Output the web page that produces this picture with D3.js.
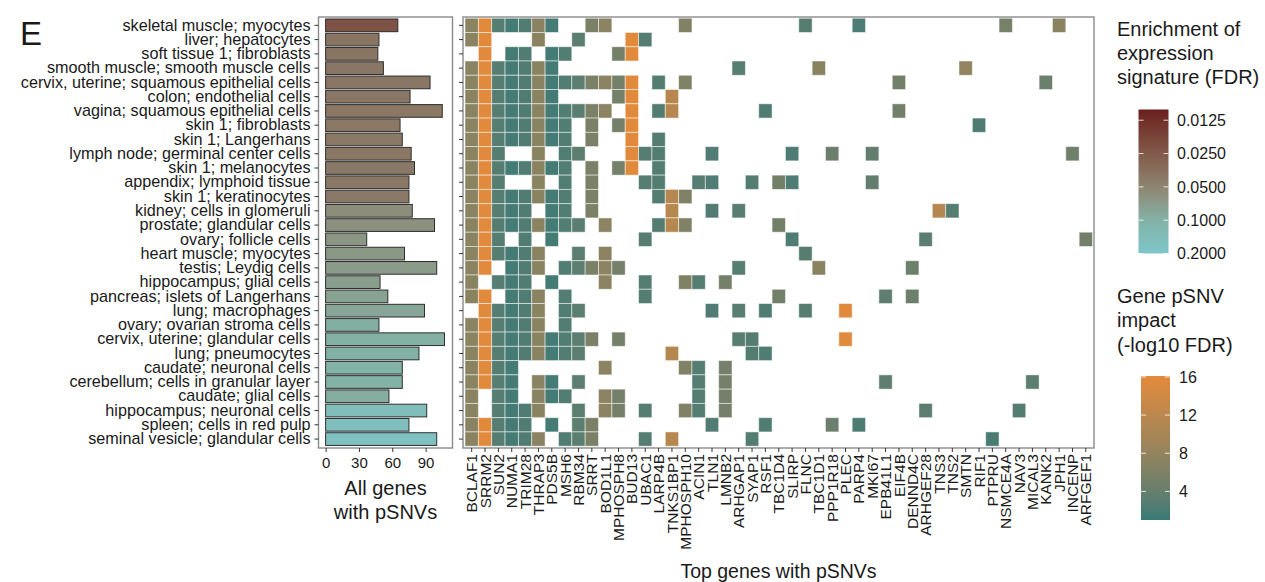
<!DOCTYPE html>
<html><head><meta charset="utf-8">
<script src="https://cdn.jsdelivr.net/npm/d3@7"></script>
<style>
body{margin:0;background:#fff;}
svg{display:block;font-family:"Liberation Sans",Arial,Helvetica,sans-serif;}
</style>
</head><body>
<svg id="chart" width="1265" height="582"></svg>
<script>
// ---------------- DATA ----------------
const tissues = [
  "skeletal muscle; myocytes","liver; hepatocytes","soft tissue 1; fibroblasts",
  "smooth muscle; smooth muscle cells","cervix, uterine; squamous epithelial cells",
  "colon; endothelial cells","vagina; squamous epithelial cells","skin 1; fibroblasts",
  "skin 1; Langerhans","lymph node; germinal center cells","skin 1; melanocytes",
  "appendix; lymphoid tissue","skin 1; keratinocytes","kidney; cells in glomeruli",
  "prostate; glandular cells","ovary; follicle cells","heart muscle; myocytes",
  "testis; Leydig cells","hippocampus; glial cells","pancreas; islets of Langerhans",
  "lung; macrophages","ovary; ovarian stroma cells","cervix, uterine; glandular cells",
  "lung; pneumocytes","caudate; neuronal cells","cerebellum; cells in granular layer",
  "caudate; glial cells","hippocampus; neuronal cells","spleen; cells in red pulp",
  "seminal vesicle; glandular cells"
];
// number of genes with pSNVs per tissue (bar length)
const allGeneCounts = [65,48,47,52,94,76,105,67,69,77,80,75,75,78,98,37,71,100,49,56,89,48,107,84,69,69,57,91,75,100];
// enrichment FDR per tissue (bar colour)
const enrichmentFDR = [0.022,0.039,0.039,0.040,0.040,0.040,0.041,0.041,0.041,0.041,0.042,0.042,0.042,0.058,0.060,
  0.064,0.067,0.070,0.073,0.078,0.083,0.095,0.097,0.099,0.100,0.100,0.092,0.150,0.160,0.170];

const genes = ["BCLAF1","SRRM2","SUN2","NUMA1","TRIM28","THRAP3","PDS5B","MSH6","RBM34","SRRT",
  "BOD1L1","MPHOSPH8","BUD13","UBAC1","LARP4B","TNKS1BP1","MPHOSPH10","ACIN1","TLN1","LMNB2",
  "ARHGAP1","SYAP1","RSF1","TBC1D4","SLIRP","FLNC","TBC1D1","PPP1R18","PLEC","PARP4","MKI67",
  "EPB41L1","EIF4B","DENND4C","ARHGEF28","TNS3","TNS2","SMTN","RIF1","PTPRU","NSMCE4A","NAV3",
  "MICAL3","KANK2","JPH1","INCENP","ARFGEF1"];
// gene pSNV impact (-log10 FDR)
const geneImpact = [7.0,16.0,2.8,1.8,2.5,7.0,1.8,2.6,3.2,5.8,
  7.2,5.2,16.0,2.8,2.7,11.5,6.3,2.8,2.5,5.2,
  3.0,2.7,2.4,5.0,2.4,2.9,7.0,4.5,15.8,2.2,3.8,
  3.6,5.0,4.6,3.2,11.2,2.8,7.8,2.3,2.1,5.3,2.7,
  3.2,4.3,7.0,4.8,5.0];
// for each tissue: indices (into genes) of top genes with pSNVs present
const tissueGeneHits = [
  [0,1,2,3,4,5,6,9,10,16,25,29,40,44],
  [0,1,5,8,12,13],
  [1,3,4,6,7,11,12],
  [0,1,2,3,4,5,6,20,26,37],
  [0,1,2,3,4,5,6,7,8,9,10,11,12,14,16,32,43],
  [0,1,2,3,4,5,6,11,12,15],
  [0,1,2,3,4,5,6,7,8,9,10,12,14,15,22,32],
  [0,1,2,3,4,5,6,7,9,11,12,38],
  [0,1,2,3,4,5,6,7,9,12,14],
  [0,1,2,5,7,8,12,13,14,18,24,27,30,45],
  [0,1,2,3,4,5,6,7,9,11,12,14],
  [0,1,2,5,7,9,13,14,17,18,21,23,24,30],
  [0,1,2,3,4,5,6,7,9,14,15,16],
  [0,1,2,3,4,6,7,9,15,18,20,35,36],
  [0,1,2,3,4,5,6,7,8,10,14,15,16,23],
  [0,1,2,4,6,13,24,34,46],
  [0,1,2,3,4,5,8,10,25],
  [0,1,3,4,5,7,8,9,10,11,20,26,33],
  [0,2,3,4,6,10,13,16,17,19],
  [0,1,3,4,5,7,13,23,31,33],
  [1,2,3,4,5,7,8,18,20,22,25,28],
  [0,1,2,3,4,5,7],
  [0,1,2,3,4,5,6,7,8,9,11,20,21,28],
  [0,1,2,3,4,5,6,7,8,15,21,22],
  [0,1,2,3,10,16,17,19],
  [0,1,2,3,5,6,8,17,19,31,42],
  [0,2,3,5,6,7,10,11,17,19],
  [0,2,3,4,5,8,10,11,13,16,17,19,34,41],
  [0,1,2,3,4,6,8,9,18,22,27,29],
  [0,1,2,3,4,5,7,8,9,13,15,21,39]
];
const barTicks = [0,30,60,90];
const enrichTicks = [0.0125,0.025,0.05,0.1,0.2];
const impactTicks = [4,8,12,16];

// ---------------- SCALES ----------------
const svg = d3.select("#chart");
const txt = "#1a1a1a";

const yHeat = d3.scaleBand().domain(tissues).range([18.2, 446.2]).padding(0);
const yBar = d3.scaleBand().domain(tissues).range([18.2, 446.2]).paddingInner(0.11).paddingOuter(0.055);
const xGene = d3.scaleBand().domain(genes).range([465, 1092.5]).padding(0);
const xBar = d3.scaleLinear().domain([-6.4, 114.2]).range([318.5, 452.5]);

const impactColor = d3.scaleLinear().domain([1, 16.1]).range(["#367a78", "#e38a3b"]).interpolate(d3.interpolateLab);
const enrichColor = d3.scaleLog().domain([0.01, 0.05, 0.1, 0.2])
  .range(["#6a1e1e", "#8d8470", "#82b3a6", "#7ec5ca"]).interpolate(d3.interpolateLab);

// ---------------- PANEL LETTER ----------------
svg.append("text").attr("x", 20).attr("y", 45).attr("font-size", 33).attr("fill", txt).text("E");

// ---------------- BAR PANEL ----------------
svg.append("g").selectAll("rect").data(tissues).join("rect")
  .attr("x", xBar(0))
  .attr("y", d => yBar(d))
  .attr("width", (d, i) => xBar(allGeneCounts[i]) - xBar(0))
  .attr("height", yBar.bandwidth())
  .attr("fill", (d, i) => enrichColor(enrichmentFDR[i]))
  .attr("stroke", "#2e2e2e").attr("stroke-width", 1);

svg.append("rect").attr("x", 318.5).attr("y", 17).attr("width", 134).attr("height", 431)
  .attr("fill", "none").attr("stroke", "#8a8a8a").attr("stroke-width", 1.4);

// y axis (tissue labels)
const yAxisBar = svg.append("g").attr("transform", "translate(318.5,0)")
  .call(d3.axisLeft(yHeat).tickSize(4).tickPadding(4));
yAxisBar.select(".domain").remove();
yAxisBar.selectAll(".tick line").attr("stroke", "#333");
yAxisBar.selectAll("text").attr("font-size", 16.2).attr("fill", txt).attr("font-family", null);

// x axis bar
const xAxisBar = svg.append("g").attr("transform", "translate(0,448)")
  .call(d3.axisBottom(xBar).tickValues(barTicks).tickSize(4).tickPadding(5));
xAxisBar.select(".domain").remove();
xAxisBar.selectAll(".tick line").attr("stroke", "#333");
xAxisBar.selectAll("text").attr("font-size", 15).attr("fill", txt).attr("font-family", null);

svg.append("text").attr("x", 385.5).attr("y", 495).attr("text-anchor", "middle")
  .attr("font-size", 20).attr("fill", txt).text("All genes");
svg.append("text").attr("x", 385.5).attr("y", 519).attr("text-anchor", "middle")
  .attr("font-size", 20).attr("fill", txt).text("with pSNVs");

// ---------------- HEATMAP ----------------
const cells = [];
tissueGeneHits.forEach((hits, r) => hits.forEach(c => cells.push({tissue: tissues[r], gene: genes[c], v: geneImpact[c]})));

svg.append("g").selectAll("rect").data(cells).join("rect")
  .attr("x", d => xGene(d.gene))
  .attr("y", d => yHeat(d.tissue))
  .attr("width", xGene.bandwidth())
  .attr("height", yHeat.bandwidth())
  .attr("fill", d => impactColor(d.v))
  .attr("stroke", "rgba(255,255,255,0.55)").attr("stroke-width", 0.9);

svg.append("rect").attr("x", 463).attr("y", 17).attr("width", 631).attr("height", 431)
  .attr("fill", "none").attr("stroke", "#8a8a8a").attr("stroke-width", 1.4);

const yAxisHeat = svg.append("g").attr("transform", "translate(463,0)")
  .call(d3.axisLeft(yHeat).tickSize(4).tickFormat(""));
yAxisHeat.select(".domain").remove();
yAxisHeat.selectAll(".tick line").attr("stroke", "#333");

const xAxisHeat = svg.append("g").attr("transform", "translate(0,448)")
  .call(d3.axisBottom(xGene).tickSize(4).tickPadding(5));
xAxisHeat.select(".domain").remove();
xAxisHeat.selectAll(".tick line").attr("stroke", "#333");
xAxisHeat.selectAll("text")
  .attr("font-size", 15.5).attr("fill", txt).attr("font-family", null)
  .attr("text-anchor", "end")
  .attr("transform", "rotate(-90)")
  .attr("x", -6).attr("y", 0).attr("dy", "0.36em");

svg.append("text").attr("x", 778.5).attr("y", 578).attr("text-anchor", "middle")
  .attr("font-size", 19.5).attr("fill", txt).text("Top genes with pSNVs");

// ---------------- LEGENDS ----------------
const defs = svg.append("defs");
function gradient(id, n, colorAt) {
  const g = defs.append("linearGradient").attr("id", id).attr("x1", 0).attr("x2", 0).attr("y1", 0).attr("y2", 1);
  d3.range(n + 1).forEach(i => g.append("stop").attr("offset", i / n).attr("stop-color", colorAt(i / n)));
}

// Legend 1: enrichment FDR (log)
const l1 = {x: 1138.5, y: 109.5, w: 30, h: 144};
const yL1 = d3.scaleLog().domain([0.01, 0.2]).range([l1.y, l1.y + l1.h]);
gradient("gEnrich", 40, t => enrichColor(yL1.invert(l1.y + t * l1.h)));
["Enrichment of", "expression", "signature (FDR)"].forEach((s, i) =>
  svg.append("text").attr("x", 1117).attr("y", 36 + i * 24).attr("font-size", 20).attr("fill", txt).text(s));
svg.append("rect").attr("x", l1.x).attr("y", l1.y).attr("width", l1.w).attr("height", l1.h).attr("fill", "url(#gEnrich)");
const t1 = svg.append("g").selectAll("g").data(enrichTicks).join("g").attr("transform", d => `translate(0,${yL1(d)})`);
t1.append("line").attr("x1", l1.x).attr("x2", l1.x + 5).attr("stroke", "#fff").attr("stroke-opacity", 0.8);
t1.append("line").attr("x1", l1.x + l1.w - 5).attr("x2", l1.x + l1.w).attr("stroke", "#fff").attr("stroke-opacity", 0.8);
t1.append("text").attr("x", 1177).attr("dy", "0.36em").attr("font-size", 16).attr("fill", txt).text(d => d.toFixed(4));

// Legend 2: gene impact
const l2 = {x: 1141, y: 376, w: 29, h: 144};
const yL2 = d3.scaleLinear().domain([1, 16.1]).range([l2.y + l2.h, l2.y]);
gradient("gImpact", 40, t => impactColor(yL2.invert(l2.y + t * l2.h)));
["Gene pSNV", "impact", "(-log10 FDR)"].forEach((s, i) =>
  svg.append("text").attr("x", 1117).attr("y", 303 + i * 24.3).attr("font-size", 20).attr("fill", txt).text(s));
svg.append("rect").attr("x", l2.x).attr("y", l2.y).attr("width", l2.w).attr("height", l2.h).attr("fill", "url(#gImpact)");
const t2 = svg.append("g").selectAll("g").data(impactTicks).join("g").attr("transform", d => `translate(0,${yL2(d)})`);
t2.append("line").attr("x1", l2.x).attr("x2", l2.x + 5).attr("stroke", "#fff").attr("stroke-opacity", 0.8);
t2.append("line").attr("x1", l2.x + l2.w - 5).attr("x2", l2.x + l2.w).attr("stroke", "#fff").attr("stroke-opacity", 0.8);
t2.append("text").attr("x", 1179).attr("dy", "0.36em").attr("font-size", 16).attr("fill", txt).text(d => d);
</script>
</body></html>
